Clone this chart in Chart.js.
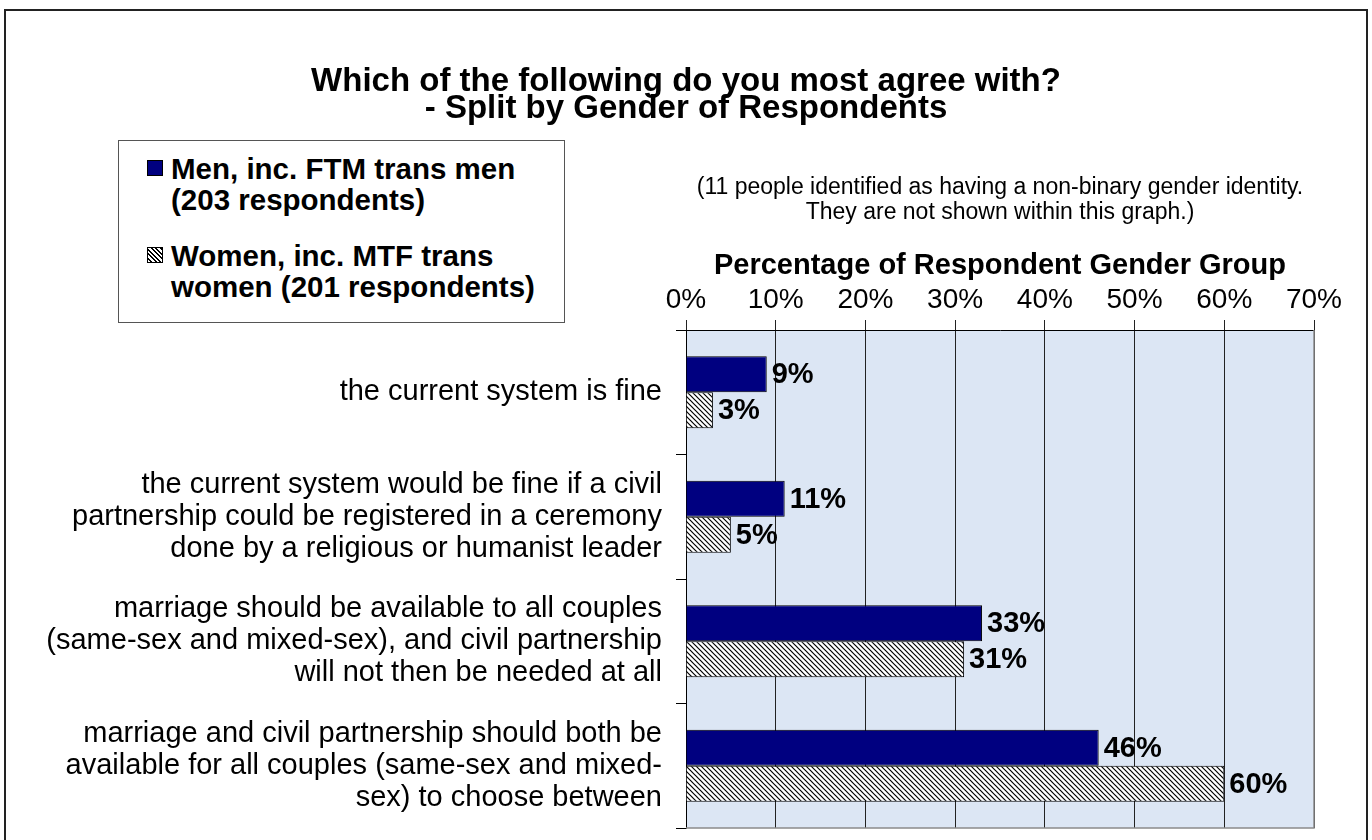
<!DOCTYPE html>
<html>
<head>
<meta charset="utf-8">
<title>Which of the following do you most agree with?</title>
<script src="https://cdn.jsdelivr.net/npm/chart.js@4.4.0/dist/chart.umd.min.js"></script>
<style>
  html,body{margin:0;padding:0;background:#fff;overflow:hidden;}
  body{width:1372px;height:840px;position:relative;font-family:"Liberation Sans",Arial,sans-serif;color:#000;}
  #frame{position:absolute;left:4px;top:9px;width:1364px;height:860px;border:2px solid #222;box-sizing:border-box;}
  #chart{position:absolute;left:0;top:0;}
  .title{position:absolute;left:0;width:1372px;text-align:center;font-weight:bold;font-size:33px;line-height:30px;}
  #legend{position:absolute;left:118px;top:140px;width:447px;height:183px;border:1px solid #555;box-sizing:border-box;background:#fff;}
  .item{position:absolute;left:28px;font-weight:bold;font-size:29.5px;line-height:31px;padding-left:24px;white-space:nowrap;}
  .sw{position:absolute;left:0;top:7px;width:16px;height:16px;border:1px solid #000;box-sizing:border-box;}
  #note{position:absolute;left:600px;width:800px;top:174px;text-align:center;font-size:23px;line-height:25px;}
</style>
</head>
<body>
<div id="frame"></div>
<canvas id="chart" width="1372" height="840"></canvas>
<div class="title" style="top:65px">Which of the following do you most agree with?</div>
<div class="title" style="top:92px">- Split by Gender of Respondents</div>
<div id="legend">
  <div class="item" style="top:12px"><span class="sw" style="background:#000080"></span>Men, inc. FTM trans men<br>(203 respondents)</div>
  <div class="item" style="top:99px"><span class="sw" style="background:repeating-linear-gradient(45deg,#fff 0 2px,#000 2px 3.2px)"></span>Women, inc. MTF trans<br>women (201 respondents)</div>
</div>
<div id="note">(11 people identified as having a non-binary gender identity.<br>They are not shown within this graph.)</div>
<script>
/* ---------- data ---------- */
const categories = [
  ['the current system is fine'],
  ['the current system would be fine if a civil','partnership could be registered in a ceremony','done by a religious or humanist leader'],
  ['marriage should be available to all couples','(same-sex and mixed-sex), and civil partnership','will not then be needed at all'],
  ['marriage and civil partnership should both be','available for all couples (same-sex and mixed-','sex) to choose between']
];
const menPct   = [9, 11, 33, 46];
const womenPct = [3, 5, 31, 60];
const xTicks   = [0, 10, 20, 30, 40, 50, 60, 70];

const FONT = '"Liberation Sans", Arial, sans-serif';

/* ---------- hatch pattern for women ---------- */
function hatch(){
  const p = 5, c = document.createElement('canvas');
  c.width = p; c.height = p;
  const g = c.getContext('2d');
  g.fillStyle = '#fff'; g.fillRect(0,0,p,p);
  g.strokeStyle = '#000'; g.lineWidth = 1.2;
  for (let k=-1;k<=1;k++){ g.beginPath(); g.moveTo(-1,k*p-1); g.lineTo(p+1,p+k*p+1); g.stroke(); }
  return document.getElementById('chart').getContext('2d').createPattern(c,'repeat');
}

/* ---------- plugins ---------- */
const plotBg = {
  id:'plotBg',
  beforeDraw(ch){
    const a = ch.chartArea, ctx = ch.ctx;
    ctx.save(); ctx.fillStyle = '#dce6f4';
    ctx.fillRect(a.left, a.top, a.right-a.left, a.bottom-a.top); ctx.restore();
  },
  afterDraw(ch){
    const a = ch.chartArea, ctx = ch.ctx;
    ctx.save(); ctx.strokeStyle = '#8a8a8a'; ctx.lineWidth = 1.5;
    ctx.beginPath(); ctx.moveTo(a.right, a.top); ctx.lineTo(a.right, a.bottom); ctx.lineTo(a.left, a.bottom); ctx.stroke();
    ctx.restore();
  }
};
const valueLabels = {
  id:'valueLabels',
  afterDatasetsDraw(ch){
    const ctx = ch.ctx;
    ctx.save();
    ctx.font = 'bold 29px ' + FONT; ctx.fillStyle = '#000';
    ctx.textAlign = 'left'; ctx.textBaseline = 'middle';
    ch.data.datasets.forEach((ds,i)=>{
      ch.getDatasetMeta(i).data.forEach((el,j)=>{
        ctx.fillText(ds.data[j] + '%', el.x + 5, el.y + 1);
      });
    });
    ctx.restore();
  }
};

/* ---------- chart ---------- */
new Chart(document.getElementById('chart'), {
  type:'bar',
  data:{
    labels:categories,
    datasets:[
      {label:'Men, inc. FTM trans men (203 respondents)', data:menPct,
       backgroundColor:'#000080', borderColor:'#000', borderWidth:1},
      {label:'Women, inc. MTF trans women (201 respondents)', data:womenPct,
       backgroundColor:hatch(), borderColor:'#000', borderWidth:1}
    ]
  },
  options:{
    indexAxis:'y', responsive:false, animation:false,
    categoryPercentage:0.58, barPercentage:1.0,
    layout:{padding:{top:240, right:58, bottom:12, left:0}},
    scales:{
      x:{position:'top', min:0, max:70,
         afterBuildTicks:s=>{ s.ticks = xTicks.map(v=>({value:v})); },
         afterFit:s=>{ s.height = 90; },
         ticks:{callback:v=>v+'%', color:'#000', padding:3, font:{family:FONT, size:28}},
         grid:{color:'#222', lineWidth:1, tickLength:10},
         border:{display:true, color:'#000', width:1},
         title:{display:true, text:'Percentage of Respondent Gender Group', color:'#000',
                font:{family:FONT, size:29, weight:'bold'}, padding:{top:9, bottom:0}}},
      y:{offset:true,
         afterFit:s=>{ s.width = 686; s.paddingTop = 0; s.paddingBottom = 0; },
         ticks:{color:'#000', padding:14, font:{family:FONT, size:29, lineHeight:'32px'}},
         grid:{offset:true, drawOnChartArea:false, color:'#000', tickLength:10},
         border:{display:true, color:'#000', width:1}}
    },
    plugins:{legend:{display:false}, tooltip:{enabled:false}, title:{display:false}}
  },
  plugins:[plotBg, valueLabels]
});
</script>
</body>
</html>
